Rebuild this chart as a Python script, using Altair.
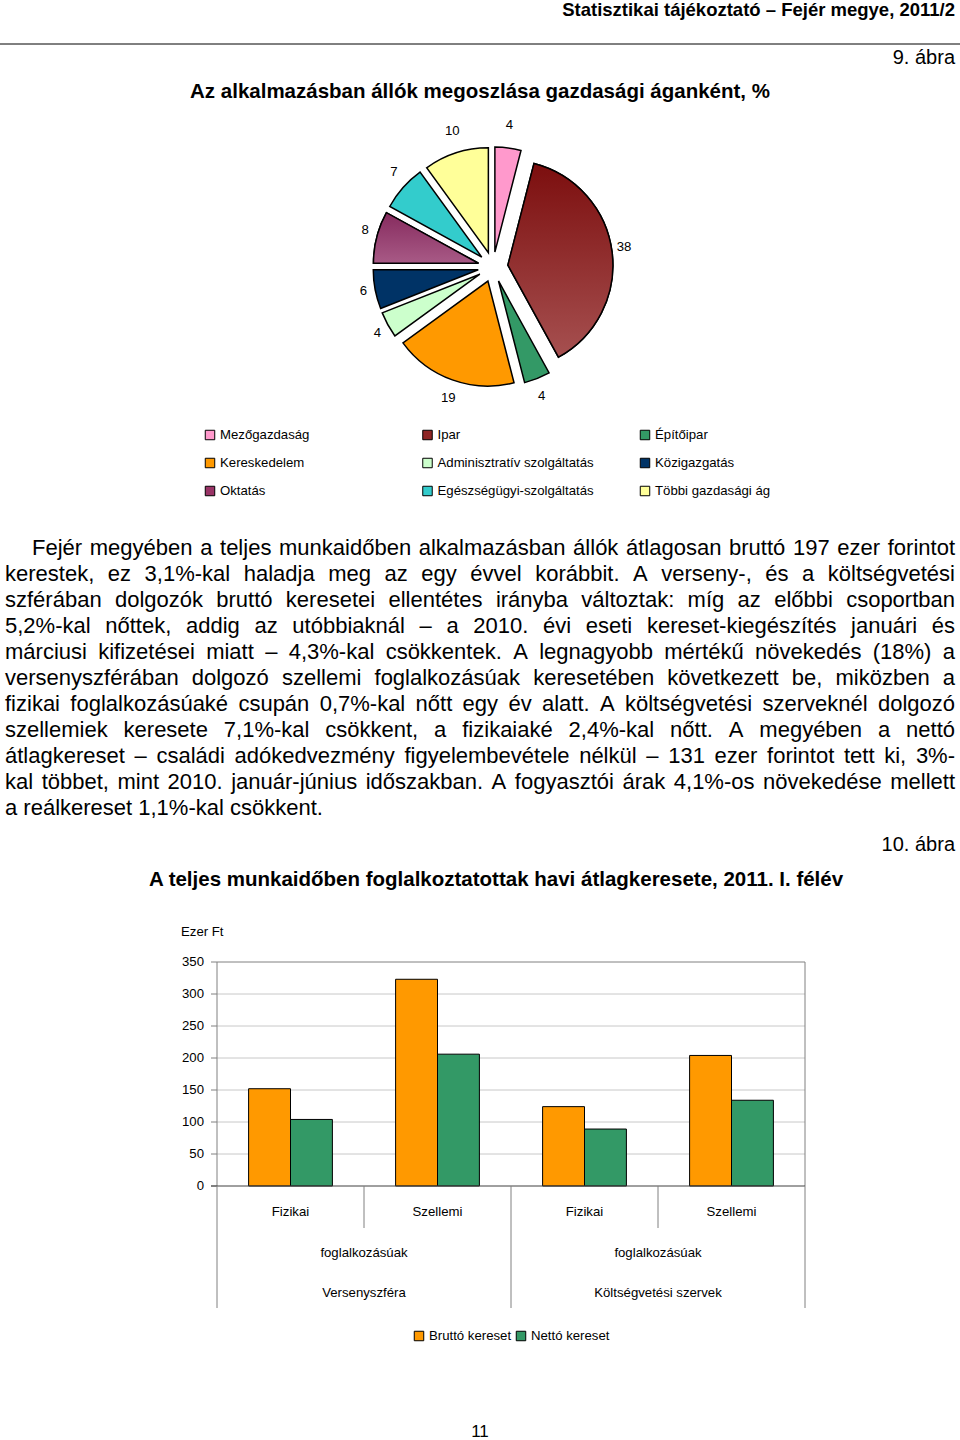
import math
import altair as alt
import pandas as pd

FONT = "Liberation Sans"

# ---------------- data ----------------
sectors = ["Mezőgazdaság", "Ipar", "Építőipar", "Kereskedelem",
           "Adminisztratív szolgáltatás", "Közigazgatás", "Oktatás",
           "Egészségügyi-szolgáltatás", "Többi gazdasági ág"]
shares = [4, 38, 4, 19, 4, 6, 8, 7, 10]
sector_colors = ["#FF99CC", "#8E2525", "#339966", "#FF9900", "#CCFFCC",
                 "#003366", "#993366", "#33CCCC", "#FFFF99"]

occupations = ["Fizikai", "Szellemi", "Fizikai", "Szellemi"]
bar_groups = ["Versenyszféra", "Versenyszféra", "Költségvetési szervek", "Költségvetési szervek"]
gross = [152, 323, 124, 204]
net = [104, 206, 89, 134]
series_names = ["Bruttó kereset", "Nettó kereset"]
series_colors = ["#FF9900", "#339966"]
y_ticks = [0, 50, 100, 150, 200, 250, 300, 350]

header_text = "Statisztikai tájékoztató – Fejér megye, 2011/2"
fig9_text = "9. ábra"
pie_title = "Az alkalmazásban állók megoszlása gazdasági áganként, %"
paragraph_lines = [
    "Fejér megyében a teljes munkaidőben alkalmazásban állók átlagosan bruttó 197 ezer forintot",
    "kerestek, ez 3,1%-kal haladja meg az egy évvel korábbit. A verseny-, és a költségvetési",
    "szférában dolgozók bruttó keresetei ellentétes irányba változtak: míg az előbbi csoportban",
    "5,2%-kal nőttek, addig az utóbbiaknál – a 2010. évi eseti kereset-kiegészítés januári és",
    "márciusi kifizetései miatt – 4,3%-kal csökkentek. A legnagyobb mértékű növekedés (18%) a",
    "versenyszférában dolgozó szellemi foglalkozásúak keresetében következett be, miközben a",
    "fizikai foglalkozásúaké csupán 0,7%-kal nőtt egy év alatt. A költségvetési szerveknél dolgozó",
    "szellemiek keresete 7,1%-kal csökkent, a fizikaiaké 2,4%-kal nőtt. A megyében a nettó",
    "átlagkereset – családi adókedvezmény figyelembevétele nélkül – 131 ezer forintot tett ki, 3%-",
    "kal többet, mint 2010. január-június időszakban. A fogyasztói árak 4,1%-os növekedése mellett",
    "a reálkereset 1,1%-kal csökkent.",
]
fig10_text = "10. ábra"
bar_title = "A teljes munkaidőben foglalkoztatottak havi átlagkeresete, 2011. I. félév"
unit_text = "Ezer Ft"
sub_text = "foglalkozásúak"
page_number = "11"

# ---------------- layout ----------------
CX, CY = 493, 267
R_PIE, EXPLODE = 105, 15
LABEL_RX, LABEL_RY, LABEL_CY = 132, 141, 265
PL, PR, PT, PB = 217, 805, 962, 1186
SMALL = 13.2

# Arial / Liberation Sans advance widths (1/1000 em)
_W = {}
for chars, w in [("abdeghnopquáéóöőúüű0123456789–L", 556), ("cksvxyzJ", 500),
                 ("ijl", 222), (" tf,.:;/!íI", 278), ("r-()", 333), ("mM", 833),
                 ("wCDHNRU", 722), ("ABEKPSVXYÁÉ", 667), ("FTZ", 611),
                 ("GOQ", 778), ("%", 889), ("W", 944)]:
    for ch in chars:
        _W[ch] = w


def text_width(s, size):
    return sum(_W.get(ch, 556) for ch in s) * size / 1000.0


def page_text(text, x, y, size, weight="normal", align="left"):
    return alt.Chart(alt.Data(values=[{"t": text}])).mark_text(
        align=align, baseline="middle", font=FONT, fontSize=size,
        fontWeight=weight, color="black"
    ).encode(text="t:N", x=alt.value(x), y=alt.value(y))


layers = []

# header
layers.append(page_text(header_text, 955, 10, 18.5, "bold", "right"))
layers.append(alt.Chart(alt.Data(values=[{}])).mark_rule(color="black", strokeWidth=1).encode(
    x=alt.value(0), x2=alt.value(960), y=alt.value(44)))
layers.append(page_text(fig9_text, 955, 58, 20, "normal", "right"))
layers.append(page_text(pie_title, 480, 92, 20.5, "bold", "center"))

# ---------------- pie ----------------
pie_df = pd.DataFrame({"sector": sectors, "share": shares, "idx": list(range(len(sectors)))})
pie_base = alt.Chart(pie_df).transform_window(
    cum="sum(share)", sort=[alt.SortField("idx")], frame=[None, 0]
).transform_joinaggregate(total="sum(share)").transform_calculate(
    f0="(datum.cum - datum.share) / datum.total"
).transform_calculate(
    f1="datum.cum / datum.total"
).transform_calculate(
    mid="PI * (datum.f0 + datum.f1)"
).transform_calculate(
    ux="sin(datum.mid)"
).transform_calculate(
    uy="-cos(datum.mid)"
)
theta_scale = alt.Scale(domain=[0, 1], range=[0, 2 * math.pi])


def unit_x(r):
    return alt.X("ux:Q", scale=alt.Scale(domain=[-1, 1], range=[CX - r, CX + r], nice=False, zero=False), axis=None)


def unit_y(r, cy=CY):
    return alt.Y("uy:Q", scale=alt.Scale(domain=[-1, 1], range=[cy - r, cy + r], nice=False, zero=False), axis=None)


slice_enc = dict(theta=alt.Theta("f0:Q", scale=theta_scale, stack=False), theta2="f1:Q",
                 x=unit_x(EXPLODE), y=unit_y(EXPLODE))

layers.append(pie_base.mark_arc(radius=R_PIE, stroke="black", strokeWidth=1.5).encode(
    color=alt.Color("sector:N", scale=alt.Scale(domain=sectors, range=sector_colors), legend=None),
    **slice_enc))


def shaded(name, top, bottom):
    return pie_base.transform_filter(alt.datum.sector == name).mark_arc(
        radius=R_PIE, stroke="black", strokeWidth=1.5,
        fill=alt.Gradient(gradient="linear",
                          stops=[alt.GradientStop(color=top, offset=0),
                                 alt.GradientStop(color=bottom, offset=1)],
                          x1=0, x2=0, y1=0, y2=1)
    ).encode(**slice_enc)


layers.append(shaded("Ipar", "#7C0E0E", "#A65050"))
layers.append(shaded("Oktatás", "#862B5E", "#A85A86"))

layers.append(pie_base.mark_text(font=FONT, fontSize=SMALL, color="black", baseline="middle").encode(
    text="share:Q", x=unit_x(LABEL_RX), y=unit_y(LABEL_RY, LABEL_CY)))

# pie legend (3 x 3 grid)
leg = alt.Chart(pie_df).transform_calculate(col="datum.idx % 3", row="floor(datum.idx / 3)")
leg_y = alt.Y("row:Q", scale=alt.Scale(domain=[0, 2], range=[435, 491], nice=False, zero=False), axis=None)
layers.append(leg.mark_square(size=90, stroke="black", strokeWidth=1, opacity=1).encode(
    x=alt.X("col:Q", scale=alt.Scale(domain=[0, 2], range=[210, 645], nice=False, zero=False), axis=None),
    y=leg_y,
    color=alt.Color("sector:N", scale=alt.Scale(domain=sectors, range=sector_colors), legend=None)))
layers.append(leg.mark_text(align="left", baseline="middle", font=FONT, fontSize=SMALL, color="black").encode(
    x=alt.X("col:Q", scale=alt.Scale(domain=[0, 2], range=[220, 655], nice=False, zero=False), axis=None),
    y=leg_y, text="sector:N"))

# ---------------- justified paragraph ----------------
PARA_SIZE = 22
rows = []
for k, line in enumerate(paragraph_lines):
    words = line.split(" ")
    left = 32 if k == 0 else 5
    widths = [text_width(w, PARA_SIZE) for w in words]
    last_line = k == len(paragraph_lines) - 1
    gap = text_width(" ", PARA_SIZE) if last_line else (955 - left - sum(widths)) / (len(words) - 1)
    x = left
    for j, (w, wd) in enumerate(zip(words, widths)):
        end = (j == len(words) - 1) and not last_line
        rows.append({"w": w, "px": 955 if end else x, "py": 548 + 26 * k, "end": end})
        x += wd + gap
words_df = pd.DataFrame(rows)
for end_flag, al in [(False, "left"), (True, "right")]:
    layers.append(alt.Chart(words_df[words_df["end"] == end_flag]).mark_text(
        align=al, baseline="middle", font=FONT, fontSize=PARA_SIZE, color="black"
    ).encode(text="w:N", x=alt.X("px:Q", scale=None, axis=None), y=alt.Y("py:Q", scale=None, axis=None)))

layers.append(page_text(fig10_text, 955, 845, 20, "normal", "right"))
layers.append(page_text(bar_title, 496, 880, 20.5, "bold", "center"))
layers.append(page_text(unit_text, 181, 932, SMALL, "normal", "left"))

# ---------------- bar chart ----------------
bar_df = pd.DataFrame({"occupation": occupations, "group": bar_groups,
                       series_names[0]: gross, series_names[1]: net})
bar_df["key"] = bar_df["group"] + " / " + bar_df["occupation"]
keys = list(bar_df["key"])
x_band = alt.Scale(domain=keys, range=[PL, PR], paddingInner=0.43, paddingOuter=0.215)
y_scale = alt.Scale(domain=[0, 350], range=[PB, PT], nice=False, zero=False)

ticks_df = pd.DataFrame({"v": y_ticks})
layers.append(alt.Chart(ticks_df).transform_filter("datum.v > 0 && datum.v < 350").mark_rule(
    color="#C8C8C8", strokeWidth=1).encode(
    y=alt.Y("v:Q", scale=y_scale, axis=None), x=alt.value(PL), x2=alt.value(PR)))
layers.append(alt.Chart(ticks_df).mark_rule(color="#808080", strokeWidth=1).encode(
    y=alt.Y("v:Q", scale=y_scale, axis=None), x=alt.value(PL - 6), x2=alt.value(PL)))
layers.append(alt.Chart(ticks_df).transform_filter("datum.v == 350").mark_rule(
    color="#808080", strokeWidth=1).encode(
    y=alt.Y("v:Q", scale=y_scale, axis=None), x=alt.value(PL), x2=alt.value(PR)))
layers.append(alt.Chart(ticks_df).mark_text(align="right", baseline="middle", font=FONT,
                                            fontSize=SMALL, color="black").encode(
    y=alt.Y("v:Q", scale=y_scale, axis=None), x=alt.value(204), text="v:Q"))

frame_df = pd.DataFrame({"lo": [0], "hi": [350]})
for xp in (PL, PR):
    layers.append(alt.Chart(frame_df).mark_rule(color="#808080", strokeWidth=1).encode(
        y=alt.Y("hi:Q", scale=y_scale, axis=None), y2="lo:Q", x=alt.value(xp)))

layers.append(alt.Chart(bar_df).transform_fold(series_names, as_=["series", "value"]).mark_bar(
    stroke="black", strokeWidth=1).encode(
    x=alt.X("key:N", scale=x_band, axis=None),
    xOffset=alt.XOffset("series:N", scale=alt.Scale(domain=series_names)),
    y=alt.Y("value:Q", scale=y_scale, axis=None, stack=False),
    color=alt.Color("series:N", scale=alt.Scale(domain=series_names, range=series_colors), legend=None)))

layers.append(alt.Chart(ticks_df).transform_filter("datum.v == 0").mark_rule(
    color="#404040", strokeWidth=1).encode(
    y=alt.Y("v:Q", scale=y_scale, axis=None), x=alt.value(PL - 6), x2=alt.value(PR)))

# multi-level category axis
n = len(keys)
bounds_df = pd.DataFrame({"b": list(range(n + 1))})
b_scale = alt.Scale(domain=[0, n], range=[PL, PR], nice=False, zero=False)
layers.append(alt.Chart(bounds_df).transform_filter("datum.b % 2 == 1").mark_rule(
    color="#808080", strokeWidth=1).encode(
    x=alt.X("b:Q", scale=b_scale, axis=None), y=alt.value(PB), y2=alt.value(1228)))
layers.append(alt.Chart(bounds_df).transform_filter("datum.b % 2 == 0").mark_rule(
    color="#808080", strokeWidth=1).encode(
    x=alt.X("b:Q", scale=b_scale, axis=None), y=alt.value(PB), y2=alt.value(1308)))

layers.append(alt.Chart(bar_df).mark_text(baseline="middle", font=FONT, fontSize=SMALL, color="black").encode(
    x=alt.X("key:N", scale=x_band, axis=None), y=alt.value(1212), text="occupation:N"))

grp_rows = []
for g in dict.fromkeys(bar_groups):
    idx = [i for i, v in enumerate(bar_groups) if v == g]
    grp_rows.append({"group": g, "mid": idx[0] + len(idx) / 2, "sub": sub_text})
grp_df = pd.DataFrame(grp_rows)
layers.append(alt.Chart(grp_df).mark_text(baseline="middle", font=FONT, fontSize=SMALL, color="black").encode(
    x=alt.X("mid:Q", scale=b_scale, axis=None), y=alt.value(1253), text="sub:N"))
layers.append(alt.Chart(grp_df).mark_text(baseline="middle", font=FONT, fontSize=SMALL, color="black").encode(
    x=alt.X("mid:Q", scale=b_scale, axis=None), y=alt.value(1293), text="group:N"))

# bar legend
ser_df = pd.DataFrame({"series": series_names, "i": list(range(len(series_names)))})
layers.append(alt.Chart(ser_df).mark_square(size=90, stroke="black", strokeWidth=1, opacity=1).encode(
    x=alt.X("i:Q", scale=alt.Scale(domain=[0, 1], range=[419, 521], nice=False, zero=False), axis=None),
    y=alt.value(1336),
    color=alt.Color("series:N", scale=alt.Scale(domain=series_names, range=series_colors), legend=None)))
layers.append(alt.Chart(ser_df).mark_text(align="left", baseline="middle", font=FONT, fontSize=SMALL,
                                          color="black").encode(
    x=alt.X("i:Q", scale=alt.Scale(domain=[0, 1], range=[429, 531], nice=False, zero=False), axis=None),
    y=alt.value(1336), text="series:N"))

layers.append(page_text(page_number, 480, 1432, 17, "normal", "center"))

chart = alt.layer(*layers).resolve_scale(
    x="independent", y="independent", color="independent", theta="independent"
).properties(
    width=960, height=1440, padding=0, autosize=alt.AutoSizeParams(type="none")
).configure_view(strokeWidth=0)

chart.save("out.html", embed_options={"renderer": "svg", "actions": False})
